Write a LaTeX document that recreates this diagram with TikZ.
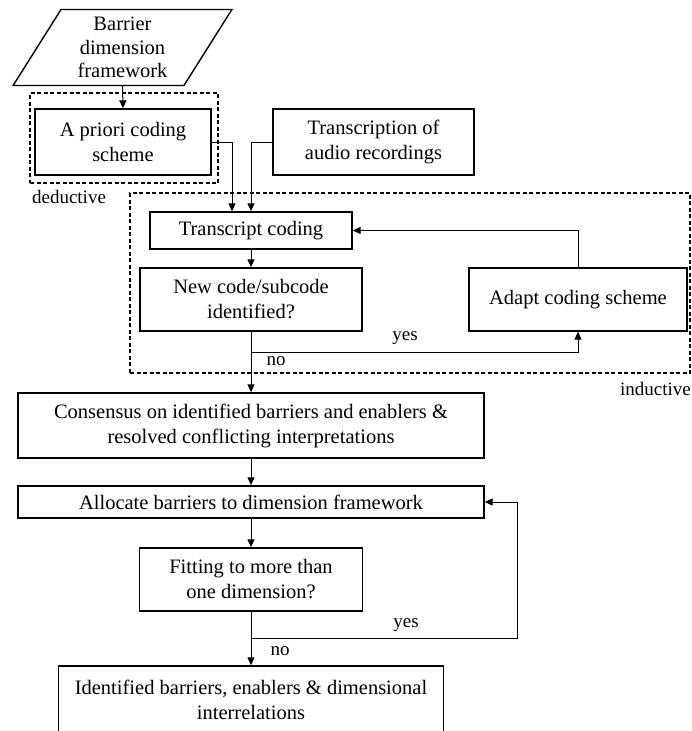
\documentclass[tikz,border=0pt]{standalone}
\usepackage{fontspec}
\setmainfont{Liberation Serif}
\usetikzlibrary{shapes.geometric, positioning, arrows.meta}

\tikzset{
  box/.style={draw, line width=1.4pt, align=center, inner sep=0pt},
  dashbox/.style={draw, line width=1.1pt, dash pattern=on 4pt off 2.5pt, inner sep=0pt},
  arr/.style={line width=1pt, -{Triangle[length=8pt,width=7pt]}},
  lab/.style={font=\fontsize{19}{23}\selectfont, inner sep=0pt},
}

\begin{document}
\begin{tikzpicture}[x=1pt, y=-1pt, font=\fontsize{20.5}{25}\selectfont]
        \useasboundingbox (0,0) rectangle (691,731);
        \node[box, trapezium, trapezium left angle=60, trapezium right angle=120,
              trapezium stretches=true, minimum width=219pt, minimum height=76pt,
              font=\fontsize{20.5}{23.5}\selectfont]
              (frame) at (122.5,47.5) {Barrier\\dimension\\framework};
        \node[dashbox, minimum width=188pt, minimum height=90pt] (ded) at (124,138) {};
        \node[lab] (dedlab) at (69,197) {deductive};
        \node[box, minimum width=176pt, minimum height=66pt] (apriori) at (123,142) {A priori coding\\scheme};
        \node[box, minimum width=201pt, minimum height=66pt] (transcr) at (373.5,142) {Transcription of\\audio recordings};
        \node[dashbox, minimum width=560pt, minimum height=180pt] (ind) at (410,283) {};
        \node[lab, anchor=east] (indlab) at (691,389) {inductive};
        \node[box, minimum width=202pt, minimum height=37pt] (tcode) at (251,230.5) {Transcript coding};
        \node[box, minimum width=222pt, minimum height=63pt] (newcode) at (251,299.5) {New code/subcode\\identified?};
        \node[box, minimum width=218pt, minimum height=63pt] (adapt) at (578,299.5) {Adapt coding scheme};
        \node[box, minimum width=466pt, minimum height=65pt] (consensus) at (251,425.5)
              {Consensus on identified barriers and enablers \&\\resolved conflicting interpretations};
        \node[box, minimum width=466pt, minimum height=32pt] (allocate) at (251,502) {Allocate barriers to dimension framework};
        \node[box, minimum width=223pt, minimum height=63pt] (fitting) at (251,579.5) {Fitting to more than\\one dimension?};
        \node[box, minimum width=385pt, minimum height=68pt] (final) at (251,700)
              {Identified barriers, enablers \& dimensional\\interrelations};
        \draw[arr] (frame.south) -- (apriori.north);
        \draw[arr] (apriori.east) -| ([xshift=-19pt]tcode.north);
        \draw[arr] (transcr.west) -| (tcode.north);
        \draw[arr] (tcode.south) -- (newcode.north);
        \draw[arr] (adapt.north) |- (tcode.east);
        \coordinate (j1) at (251,352);
        \draw[arr] (newcode.south) -- (consensus.north);
        \draw[arr] (j1) -| (adapt.south);
        \node[lab] (yes1) at (405,338) {yes};
        \node[lab] (no1) at (276,361) {no};
        \draw[arr] (consensus.south) -- (allocate.north);
        \draw[arr] (allocate.south) -- (fitting.north);
        \coordinate (j2) at (251,638);
        \coordinate (c2) at (517,638);
        \draw[arr] (fitting.south) -- (final.north);
        \draw[arr] (j2) -- (c2) |- (allocate.east);
        \node[lab] (yes2) at (406,625) {yes};
        \node[lab] (no2) at (280,651) {no};
    \end{tikzpicture}
\end{document}
